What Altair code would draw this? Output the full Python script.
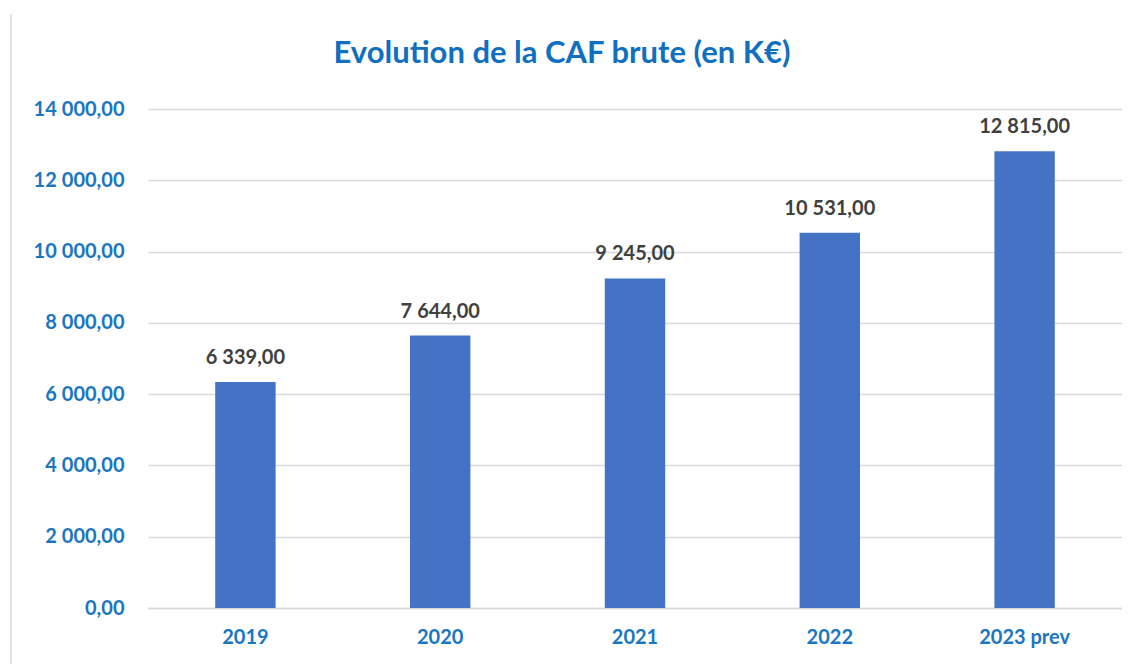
import altair as alt
import pandas as pd

years = ["2019", "2020", "2021", "2022", "2023 prev"]
values = [6339, 7644, 9245, 10531, 12815]
y_ticks = [0, 2000, 4000, 6000, 8000, 10000, 12000, 14000]
title_text = "Evolution de la CAF brute (en K€)"

df = pd.DataFrame({"annee": years, "caf": values})

BLUE_TXT = "#1A76C2"
TITLE_BLUE = "#0F6FC0"
BAR = "#4472C4"
FONT = "Lato"

x_enc = alt.X("annee:N", sort=years, title=None,
              scale=alt.Scale(paddingInner=0.69, paddingOuter=0.345),
              axis=alt.Axis(labelAngle=0, labelFont=FONT, labelFontSize=20,
                            labelFontWeight="bold", labelColor=BLUE_TXT,
                            labelPadding=19, ticks=False, domain=True,
                            domainColor="#D9D9D9", domainWidth=1.5, grid=False))
y_enc = alt.Y("caf:Q", title=None,
              scale=alt.Scale(domain=[0, 14000], nice=False),
              axis=alt.Axis(values=y_ticks, format=",.2f", labelFont=FONT,
                            labelFontSize=20, labelFontWeight="bold",
                            labelColor=BLUE_TXT, labelPadding=24, ticks=False,
                            domain=False, gridColor="#D9D9D9", gridWidth=1.5))

base = alt.Chart(df)
bars = base.mark_bar(color=BAR).encode(x=x_enc, y=y_enc)
labels = base.mark_text(baseline="alphabetic", dy=-18, font=FONT, fontSize=20,
                        fontWeight="bold", color="#404040").encode(
    x=alt.X("annee:N", sort=years), y="caf:Q",
    text=alt.Text("caf:Q", format=",.2f"))

title = alt.Chart(pd.DataFrame({"t": [title_text]})).mark_text(
    font=FONT, fontSize=31, fontWeight="bold", color=TITLE_BLUE,
    baseline="alphabetic", align="center").encode(
    x=alt.value(414), y=alt.value(-46), text="t:N")

edge = alt.Chart(pd.DataFrame({"v": [0]})).mark_rule(color="#D9D9D9", strokeWidth=1.5).encode(
    x=alt.value(-137), y=alt.value(-95), y2=alt.value(556))

chart = alt.layer(bars, labels, title, edge).properties(
    width=974, height=499,
    padding={"left": 2, "right": 0, "top": 5, "bottom": 0},
).configure(
    locale={"number": {"decimal": ",", "thousands": "\u202f", "grouping": [3],
                       "currency": ["", " €"]}},
    view=alt.ViewConfig(stroke=None),
)

chart.save("out.html", embed_options={"renderer": "svg", "actions": False})
